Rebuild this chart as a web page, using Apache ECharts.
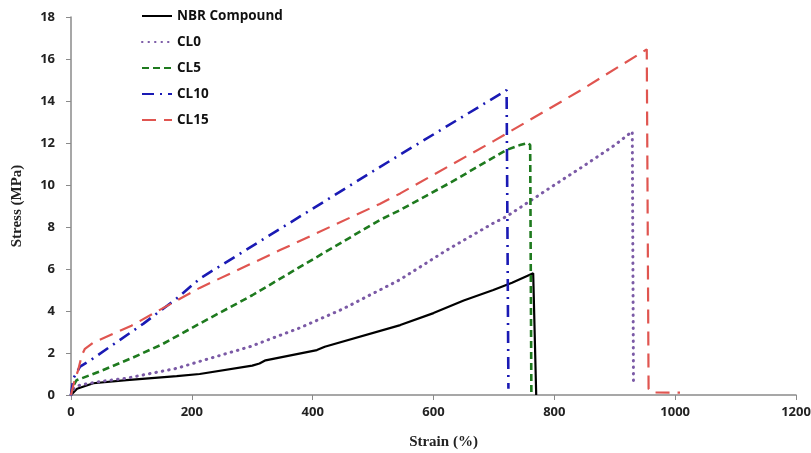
<!DOCTYPE html>
<html><head><meta charset="utf-8">
<script src="https://cdn.jsdelivr.net/npm/echarts@6/dist/echarts.min.js"></script>
<style>html,body{margin:0;padding:0;background:#fff}#c{width:811px;height:453px}</style>
</head><body><div id="c"></div>
<script>
var seriesNames = ['NBR Compound', 'CL0', 'CL5', 'CL10', 'CL15'];
var xTicks = [0, 200, 400, 600, 800, 1000, 1200];
var yTicks = [0, 2, 4, 6, 8, 10, 12, 14, 16, 18];

var nbrStrain = [0, 10, 37, 92, 175, 213, 300, 312, 322, 407, 420, 545, 600, 650, 699, 730, 765, 768, 770];
var nbrStress = [0, 0.3, 0.56, 0.71, 0.9, 1.0, 1.4, 1.5, 1.65, 2.14, 2.3, 3.33, 3.9, 4.5, 5.0, 5.35, 5.8, 5.8, 0];

var cl0Strain = [0, 5, 15, 50, 92, 175, 213, 296, 379, 450, 511, 545, 622, 700, 721, 800, 843, 900, 929, 931];
var cl0Stress = [0, 0.3, 0.48, 0.65, 0.8, 1.27, 1.6, 2.3, 3.2, 4.1, 5.0, 5.5, 6.9, 8.2, 8.5, 10.0, 10.8, 11.9, 12.55, 0.5];

var cl5Strain = [0, 3, 9, 50, 100, 150, 213, 300, 379, 511, 545, 627, 721, 743, 757, 760, 762];
var cl5Stress = [0, 0.4, 0.7, 1.15, 1.75, 2.4, 3.4, 4.75, 6.1, 8.33, 8.81, 10.1, 11.67, 11.9, 12.0, 11.9, 0];

var cl10Strain = [0, 4, 15, 37, 120, 175, 214, 511, 545, 721, 724];
var cl10Stress = [0, 0.8, 1.35, 1.75, 3.4, 4.6, 5.56, 10.85, 11.45, 14.52, 0.3];

var cl15Strain = [0, 5, 12, 18, 23, 37, 100, 175, 213, 346, 511, 545, 700, 843, 953, 956, 961, 1008];
var cl15Stress = [0, 0.6, 1.2, 1.9, 2.2, 2.5, 3.3, 4.5, 5.1, 6.9, 9.1, 9.6, 12.1, 14.5, 16.46, 0.3, 0.12, 0.11];

function pairs(xs, ys) { return xs.map(function (x, i) { return [x, ys[i]]; }); }

var colors = ['#000000', '#7b5aa6', '#1e7a1e', '#1a1ab4', '#e05550'];
var dashes = ['solid', [0.5, 6], [7, 4], [12, 6, 2, 6], [14, 8]];
var widths = [2.2, 3, 2.6, 2.6, 2.2];
var datas = [pairs(nbrStrain, nbrStress), pairs(cl0Strain, cl0Stress), pairs(cl5Strain, cl5Stress),
             pairs(cl10Strain, cl10Stress), pairs(cl15Strain, cl15Stress)];

var chart = echarts.init(document.getElementById('c'), null, {renderer: 'canvas'});
chart.setOption({
  animation: false,
  backgroundColor: '#fff',
  grid: {left: 71, right: 15, top: 17, bottom: 58, containLabel: false, outerBoundsMode: 'none'},
  legend: {
    orient: 'vertical', left: 136, top: 4, itemWidth: 30, itemHeight: 14, itemGap: 12, itemTextGap: 3,
    data: seriesNames,
    itemStyle: {opacity: 0},
    textStyle: {fontFamily: 'Open Sans', fontWeight: 'bold', fontSize: 13.5, color: '#111'}
  },
  xAxis: {
    type: 'value', min: 0, max: 1200, interval: 200,
    name: 'Strain (%)', nameLocation: 'middle', nameGap: 40,
    nameTextStyle: {fontFamily: 'Liberation Serif', fontWeight: 'bold', fontSize: 15, color: '#222', padding: [0, 0, 0, 20]},
    axisLine: {lineStyle: {color: '#8a8a8a', width: 1.5}},
    axisTick: {show: true, length: 5, lineStyle: {color: '#8a8a8a'}},
    splitLine: {show: false},
    axisLabel: {fontFamily: 'Open Sans', fontWeight: 'bold', fontSize: 13, color: '#222', margin: 11,
      formatter: function (v) { return String(v); }}
  },
  yAxis: {
    type: 'value', min: 0, max: 18, interval: 2,
    name: 'Stress (MPa)', nameLocation: 'middle', nameGap: 46, nameRotate: 90,
    nameTextStyle: {fontFamily: 'Liberation Serif', fontWeight: 'bold', fontSize: 15, color: '#222'},
    axisLine: {show: true, lineStyle: {color: '#8a8a8a', width: 1.5}},
    axisTick: {show: true, length: 5, lineStyle: {color: '#8a8a8a'}},
    splitLine: {show: false},
    axisLabel: {fontFamily: 'Open Sans', fontWeight: 'bold', fontSize: 13, color: '#222', margin: 16,
      formatter: function (v) { return String(v); }}
  },
  series: seriesNames.map(function (n, i) {
    return {
      name: n, type: 'line', data: datas[i], symbol: 'none', showSymbol: false, smooth: false,
      itemStyle: {color: colors[i]},
      lineStyle: {color: colors[i], width: widths[i], type: dashes[i], cap: i === 1 ? 'round' : 'butt'}
    };
  })
});
</script></body></html>
